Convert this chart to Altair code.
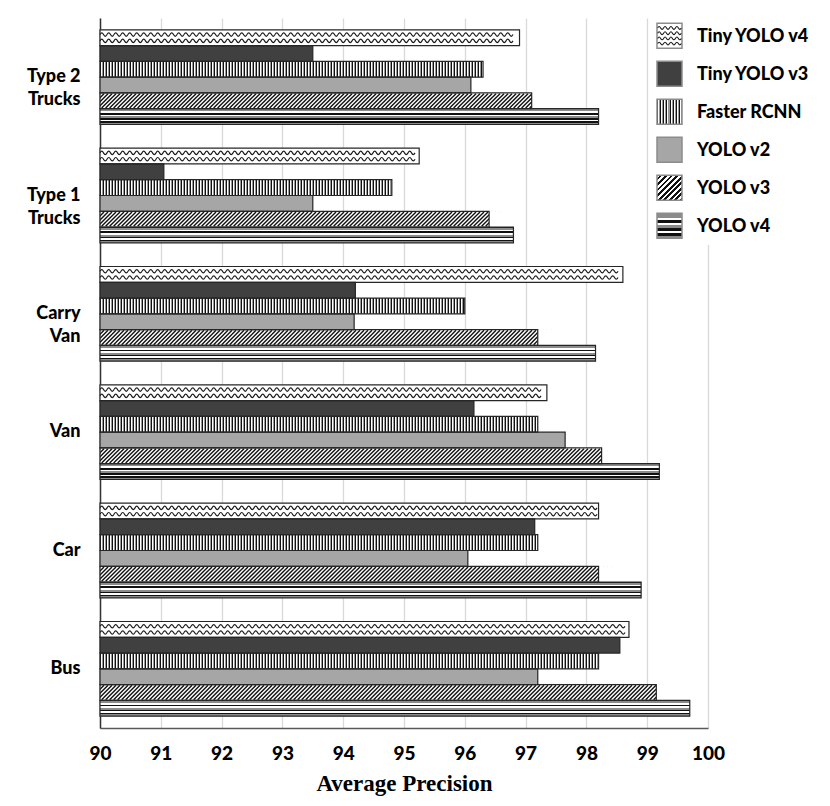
import altair as alt
import pandas as pd

# ---------------- data ----------------
categories = ["Type 2 Trucks", "Type 1 Trucks", "Carry Van", "Van", "Car", "Bus"]
series = ["Tiny YOLO v4", "Tiny YOLO v3", "Faster RCNN", "YOLO v2", "YOLO v3", "YOLO v4"]

tiny_yolo_v4 = [96.9, 95.25, 98.6, 97.35, 98.2, 98.7]
tiny_yolo_v3 = [93.5, 91.05, 94.2, 96.15, 97.15, 98.55]
faster_rcnn = [96.3, 94.8, 96.0, 97.2, 97.2, 98.2]
yolo_v2 = [96.1, 93.5, 94.18, 97.65, 96.05, 97.2]
yolo_v3 = [97.1, 96.4, 97.2, 98.25, 98.2, 99.15]
yolo_v4 = [98.2, 96.8, 98.15, 99.2, 98.9, 99.7]

x_ticks = [90, 91, 92, 93, 94, 95, 96, 97, 98, 99, 100]

series_values = [tiny_yolo_v4, tiny_yolo_v3, faster_rcnn, yolo_v2, yolo_v3, yolo_v4]
rows = []
for s, vals in zip(series, series_values):
    for c, v in zip(categories, vals):
        rows.append({"category": c, "series": s, "value": v})
df = pd.DataFrame(rows)
legend_df = pd.DataFrame({"series": series})

# ---------------- layout / style ----------------
W, H = 608, 710
UPP = 10.0 / W                       # data units per pixel
STEP = H / (6 - 0.2 + 2 * 0.1)
SUB = STEP * 0.8 / 6                 # height of one bar in px

LABEL_FONT = "Lato"
LABEL_WEIGHT = 900

x_scale = alt.Scale(domain=[90, 100], nice=False, zero=False)
y_scale = alt.Scale(domain=categories, paddingInner=0.2, paddingOuter=0.1)
yo_scale = alt.Scale(domain=series, paddingInner=0, paddingOuter=0)

x_axis = alt.Axis(
    values=x_ticks, grid=True, gridColor="#d9d9d9", gridWidth=1.3,
    ticks=False, domainColor="#595959", domainWidth=1.5,
    labelFont=LABEL_FONT, labelFontWeight=LABEL_WEIGHT, labelFontSize=19,
    labelColor="black", labelPadding=16, labelFlush=False, labelOverlap=False,
    title="Average Precision", titleFont="Liberation Serif", titleFontSize=23,
    titleFontWeight="bold", titleColor="black", titlePadding=9,
)
y_axis = alt.Axis(
    title=None, ticks=False, grid=False, domainColor="#333333", domainWidth=1.5,
    labelFont=LABEL_FONT, labelFontWeight=LABEL_WEIGHT, labelFontSize=18,
    labelColor="black", labelPadding=20, labelLineHeight=23,
    labelExpr=("datum.label == 'Carry Van' ? ['Carry', 'Van'] : "
               "(indexof(datum.label, ' Trucks') > 0 ? "
               "[replace(datum.label, ' Trucks', ''), 'Trucks'] : datum.label)"),
)

Y = alt.Y("category:N", scale=y_scale, axis=y_axis)
YO = alt.YOffset("series:N", scale=yo_scale)


def bands_to_stops(bands):
    total = sum(w for _, w in bands)
    pos = 0.0
    stops = []
    for color, w in bands:
        a = pos / total
        pos += w
        b = pos / total
        stops.append(alt.GradientStop(color=color, offset=round(a, 4)))
        stops.append(alt.GradientStop(color=color, offset=round(b, 4)))
    return stops


hstripe_bands = [("#111111", 0.6), ("#8c8c8c", 2.0), ("#ffffff", 1.5), ("#111111", 1.5),
                 ("#ffffff", 1.5), ("#8c8c8c", 1.8), ("#111111", 1.5), ("#ffffff", 1.3),
                 ("#111111", 1.5), ("#8c8c8c", 1.6)]
hstripe_grad = alt.LinearGradient(gradient="linear", stops=bands_to_stops(hstripe_bands),
                                  x1=0, x2=0, y1=0, y2=1)

vstripe_grad = alt.LinearGradient(
    gradient="linear",
    stops=bands_to_stops([("#111111", 1), ("#ffffff", 1), ("#9a9a9a", 1)] * 8),
    x1=0, x2=1, y1=0, y2=0)

diag_grad = alt.LinearGradient(
    gradient="linear",
    stops=bands_to_stops([("#ffffff", 1), ("#111111", 1)] * 9),
    x1=0, x2=1, y1=0, y2=1)


def wave_path(row_ys, periods, k):
    parts = []
    w = 2.0 / periods
    h = w / 2
    for y0 in row_ys:
        x = -1.0
        seg = [f"M{x:.3f},{y0:.3f}"]
        sign = -1
        for _ in range(periods * 2):
            seg.append(
                f"C{x + 0.35 * h:.3f},{y0 + sign * k:.3f} {x + 0.65 * h:.3f},{y0 + sign * k:.3f} {x + h:.3f},{y0:.3f}")
            x += h
            sign = -sign
        parts.append(" ".join(seg))
    return " ".join(parts)


TILE = 7.0  # px width of one wave tile
tile_path = wave_path([-0.9, 0.9], 1, 0.65)
legend_wave_path = wave_path([-0.66, -0.22, 0.22, 0.66], 4, 0.16)

base = alt.Chart(df)
X = alt.X("value:Q", scale=x_scale, axis=x_axis)

fill_scale = alt.Scale(domain=series,
                       range=["#ffffff", "#404040", "#9a9a9a", "#a6a6a6", "#ffffff", "#ffffff"])
bars = base.mark_bar(strokeWidth=0).encode(
    x=X, x2=alt.datum(90), y=Y, yOffset=YO,
    fill=alt.Fill("series:N", scale=fill_scale, legend=None),
)

v4_bars = base.transform_filter(alt.datum.series == "YOLO v4").mark_bar(
    fill=hstripe_grad, strokeWidth=0
).encode(x=X, x2=alt.datum(90), y=Y, yOffset=YO)

# Faster RCNN vertical stripes (black + white lines on grey)
PERIOD = 3.0 * UPP
black_lines = base.transform_filter(alt.datum.series == "Faster RCNN").transform_calculate(
    s=f"sequence(90, datum.value - {UPP}, {PERIOD})"
).transform_flatten(["s"]).transform_calculate(s2=f"datum.s + {UPP}").mark_bar(
    fill="#111111", strokeWidth=0
).encode(x=alt.X("s:Q", scale=x_scale, axis=x_axis), x2="s2:Q", y=Y, yOffset=YO)

white_lines = base.transform_filter(alt.datum.series == "Faster RCNN").transform_calculate(
    s=f"sequence(90 + {UPP}, datum.value - {UPP}, {PERIOD})"
).transform_flatten(["s"]).transform_calculate(s2=f"datum.s + {UPP}").mark_bar(
    fill="#ffffff", strokeWidth=0
).encode(x=alt.X("s:Q", scale=x_scale, axis=x_axis), x2="s2:Q", y=Y, yOffset=YO)

# YOLO v3 diagonal hatch (tiles run past the bar end, then the overhang is masked)
DSPAN = SUB - 1.4
DHALF = DSPAN / 2 * UPP
diag = base.transform_filter(alt.datum.series == "YOLO v3").transform_calculate(
    s=f"sequence(90 - {DHALF}, datum.value + {DHALF}, {4.0 * UPP})"
).transform_flatten(["s"]).mark_point(
    shape="M-1,1L1,-1", filled=False, stroke="#111111", strokeWidth=1.4,
    size=DSPAN * DSPAN, opacity=1, clip=True
).encode(x=alt.X("s:Q", scale=x_scale, axis=x_axis), y=Y, yOffset=YO)

diag_mask = base.transform_filter(alt.datum.series == "YOLO v3").transform_calculate(
    e=f"datum.value + {2.4 * DHALF}"
).mark_bar(fill="white", strokeWidth=0).encode(
    x=X, x2="e:Q", y=Y, yOffset=YO)

# Tiny YOLO v4 waves
THALF = TILE / 2 * UPP
waves = base.transform_filter(alt.datum.series == "Tiny YOLO v4").transform_calculate(
    s=f"sequence(90 + {THALF}, datum.value - {THALF} + 0.001, {TILE * UPP})"
).transform_flatten(["s"]).mark_point(
    shape=tile_path, filled=False, stroke="#1a1a1a", strokeWidth=1.2,
    size=TILE * TILE, opacity=1
).encode(x=alt.X("s:Q", scale=x_scale, axis=x_axis), y=Y, yOffset=YO)

outline = base.mark_bar(filled=False, stroke="#262626", strokeWidth=1.2).encode(
    x=X, x2=alt.datum(90), y=Y, yOffset=YO)

main = alt.layer(bars, v4_bars, black_lines, white_lines, diag, diag_mask, waves, outline)

# ---------------- legend ----------------
LY = alt.Y("series:N", scale=alt.Scale(type="point", domain=series, range=[17.8, 207.8], padding=0),
           axis=None)
SW_X = alt.value(569.5)
leg = alt.Chart(legend_df)

legend_bg = alt.Chart(pd.DataFrame({"a": [0]})).mark_rect(fill="white").encode(
    x=alt.value(549), x2=alt.value(720), y=alt.value(0), y2=alt.value(227))

swatch_fills = {
    "Tiny YOLO v4": "#ffffff",
    "Tiny YOLO v3": "#404040",
    "Faster RCNN": vstripe_grad,
    "YOLO v2": "#a6a6a6",
    "YOLO v3": diag_grad,
    "YOLO v4": hstripe_grad,
}
swatches = []
for s in series:
    swatches.append(
        leg.transform_filter(alt.datum.series == s).mark_square(
            size=625, fill=swatch_fills[s], stroke="#8c8c8c", strokeWidth=1.5, opacity=1
        ).encode(x=SW_X, y=LY)
    )
legend_wave = leg.transform_filter(alt.datum.series == "Tiny YOLO v4").mark_point(
    shape=legend_wave_path, filled=False, stroke="#1a1a1a", strokeWidth=1.1, size=560, opacity=1
).encode(x=SW_X, y=LY)

legend_text = leg.mark_text(
    align="left", baseline="middle", font=LABEL_FONT, fontWeight=LABEL_WEIGHT, fontSize=18,
    color="black", dy=1
).encode(x=alt.value(597), y=LY, text="series:N")

legend = alt.layer(legend_bg, *swatches, legend_wave, legend_text)

chart = alt.layer(main, legend).resolve_scale(y="independent").properties(
    width=W, height=H,
    autosize=alt.AutoSizeParams(type="none"),
    padding={"left": 92, "top": 10, "right": 114, "bottom": 70},
).configure_view(stroke="transparent")

chart.save("out.html", embed_options={"renderer": "svg", "actions": False})
